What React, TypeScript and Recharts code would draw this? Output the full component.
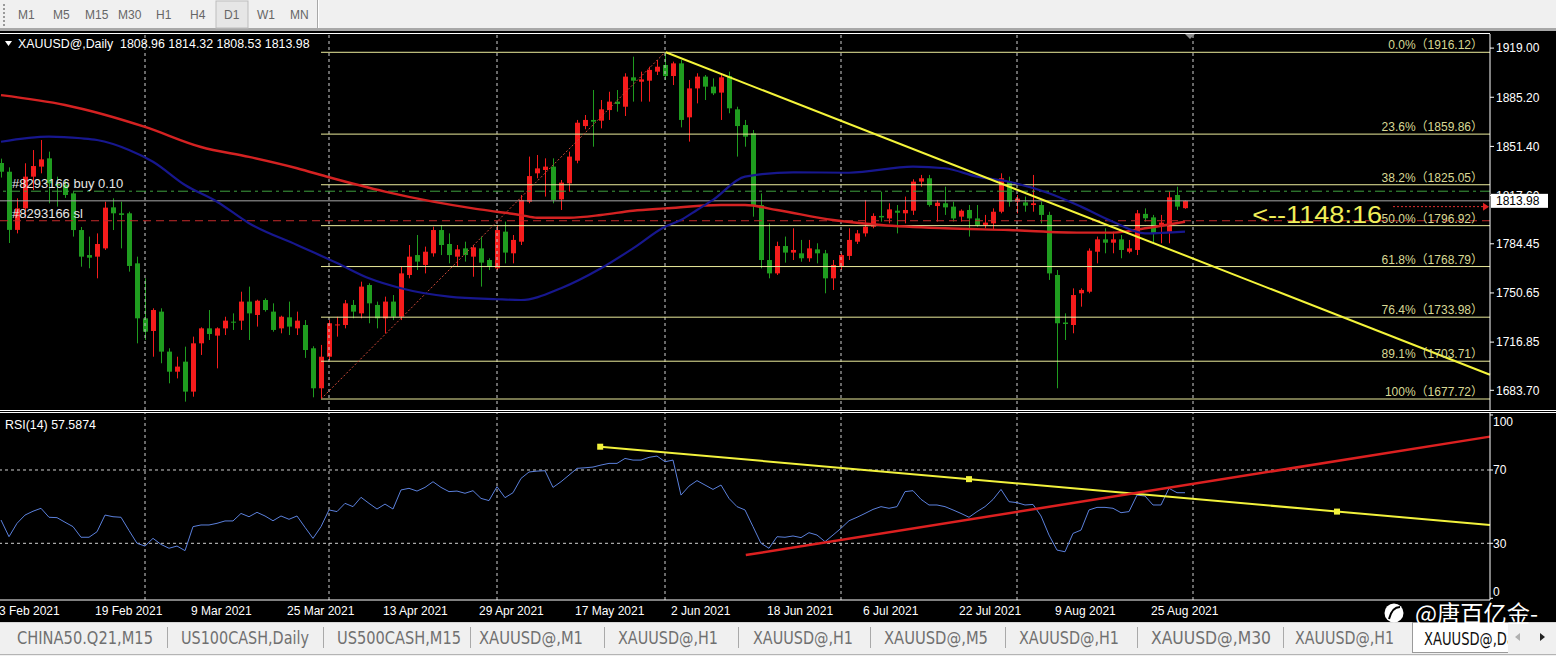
import React from 'react';
import { ComposedChart, Bar, Line, XAxis, YAxis, ReferenceLine, ReferenceDot } from 'recharts';

// ---------------- data ----------------
const opens = [
  1840, 1834, 1794, 1808.8, 1830.6, 1837.5, 1843.2, 1825.5, 1824.9, 1819.1,
  1793.9, 1776.7, 1775.6, 1781.3, 1809.5, 1805.4, 1805.4, 1771.0, 1733.2, 1724.5,
  1737.8, 1710.3, 1696.5, 1703.4, 1682.8, 1716.0, 1726.3, 1721.3, 1726.3, 1730.9,
  1731.6, 1744.7, 1735.5, 1745.8, 1737.8, 1726.3, 1733.9, 1726.3, 1728.6, 1712.6,
  1685.1, 1706.8, 1728.6, 1728.6, 1742.4, 1736.6, 1756.1, 1742.4, 1733.2, 1744.7,
  1734.3, 1763.0, 1776.7, 1769.9, 1777.9, 1793.9, 1784.3, 1775.6, 1781.3, 1775.6,
  1781.3, 1773.3, 1767.6, 1792.8, 1777.9, 1785.9, 1813.4, 1832.9, 1835.2, 1837.5,
  1815.0, 1826.0, 1841.6, 1865.4, 1869.6, 1869.1, 1876.4, 1882.2, 1878.7, 1898.9,
  1895.9, 1896.6, 1902.8, 1907.4, 1899.8, 1908.5, 1871.4, 1891.3, 1899.4, 1892.5,
  1888.4, 1899.8, 1876.9, 1866.1, 1860.4, 1811.1, 1773.3, 1764.1, 1782.9, 1778.4,
  1777.9, 1774.5, 1780.6, 1777.9, 1760.7, 1769.2, 1776.1, 1785.9, 1791.6, 1796.2,
  1803.6, 1801.9, 1807.2, 1805.4, 1807.2, 1827.2, 1829.5, 1810.4, 1812.3, 1810.0,
  1803.1, 1807.7, 1801.9, 1797.4, 1798.5, 1806.5, 1827.2, 1813.4, 1812.9, 1811.1,
  1811.1, 1804.3, 1763.0, 1730.3, 1728.6, 1750.4, 1751.5, 1779.0, 1787.5, 1785.2,
  1787.5, 1779.0, 1780.2, 1805.0, 1802.6, 1797.4, 1792.8, 1818.0, 1808.96,
];
const highs = [
  1843, 1837, 1815.7, 1839.8, 1848.9, 1855.8, 1847.8, 1830.6, 1828.0, 1820.3,
  1796.0, 1789.4, 1791.6, 1813.4, 1815.7, 1813.4, 1806.5, 1775.6, 1760.7, 1740.1,
  1740.1, 1712.6, 1706.8, 1713.7, 1720.6, 1727.0, 1738.9, 1727.0, 1734.3, 1736.6,
  1751.5, 1755.0, 1746.0, 1746.9, 1743.5, 1735.0, 1744.7, 1737.8, 1732.0, 1714.0,
  1714.9, 1732.0, 1734.3, 1745.8, 1745.8, 1758.4, 1757.3, 1744.7, 1748.1, 1749.2,
  1768.7, 1783.6, 1790.5, 1782.5, 1796.2, 1797.4, 1791.6, 1783.6, 1785.9, 1783.6,
  1789.4, 1774.5, 1797.4, 1799.7, 1790.5, 1818.0, 1844.4, 1845.5, 1843.2, 1843.2,
  1828.3, 1847.8, 1869.6, 1873.0, 1890.2, 1883.3, 1889.0, 1890.2, 1901.7, 1913.1,
  1902.8, 1906.2, 1910.8, 1916.12, 1909.7, 1910.8, 1897.1, 1901.7, 1900.5, 1898.2,
  1901.7, 1902.8, 1878.7, 1869.6, 1862.7, 1819.1, 1798.5, 1785.9, 1789.4, 1795.1,
  1787.1, 1787.1, 1784.8, 1780.2, 1773.3, 1777.9, 1795.1, 1793.9, 1814.6, 1805.4,
  1820.3, 1812.3, 1811.1, 1816.9, 1828.8, 1831.8, 1831.8, 1814.6, 1823.7, 1813.4,
  1808.1, 1811.1, 1811.1, 1804.3, 1808.8, 1832.9, 1830.6, 1818.0, 1816.9, 1831.8,
  1813.4, 1806.5, 1766.4, 1736.6, 1753.8, 1753.8, 1781.3, 1789.4, 1795.1, 1792.8,
  1790.5, 1787.1, 1807.7, 1808.8, 1804.3, 1804.3, 1820.3, 1823.7, 1814.32,
];
const lows = [
  1830, 1785, 1791.6, 1802.0, 1821.4, 1832.9, 1812.3, 1810.0, 1816.0, 1789.4,
  1768.7, 1767.6, 1760.7, 1780.2, 1793.9, 1781.3, 1765.3, 1716.0, 1718.3, 1706.8,
  1702.3, 1688.5, 1691.9, 1675.9, 1679.3, 1708.0, 1718.3, 1698.8, 1721.7, 1725.2,
  1725.2, 1718.3, 1727.5, 1737.8, 1724.0, 1722.9, 1721.7, 1721.7, 1706.0, 1678.9,
  1677.72, 1704.5, 1720.6, 1726.3, 1733.2, 1733.2, 1729.8, 1726.3, 1722.9, 1732.0,
  1732.0, 1760.7, 1766.4, 1764.1, 1775.6, 1776.7, 1771.0, 1768.7, 1772.2, 1761.8,
  1755.0, 1766.4, 1766.4, 1771.0, 1771.0, 1783.6, 1812.3, 1829.5, 1816.9, 1812.3,
  1807.7, 1820.3, 1839.8, 1863.2, 1851.2, 1863.8, 1869.6, 1875.3, 1872.3, 1882.2,
  1882.2, 1882.2, 1900.5, 1897.1, 1893.6, 1864.5, 1854.7, 1881.0, 1883.3, 1886.7,
  1869.6, 1874.2, 1844.4, 1851.2, 1803.1, 1767.6, 1760.7, 1763.0, 1771.5, 1773.3,
  1772.1, 1772.1, 1771.0, 1750.4, 1752.7, 1766.4, 1773.3, 1784.3, 1789.4, 1795.1,
  1799.7, 1798.5, 1791.6, 1798.5, 1804.3, 1823.7, 1810.0, 1799.7, 1804.3, 1799.7,
  1799.7, 1789.4, 1796.2, 1795.1, 1793.9, 1805.4, 1810.0, 1805.4, 1806.5, 1806.5,
  1798.5, 1759.6, 1685.1, 1718.3, 1722.9, 1741.2, 1750.4, 1771.0, 1777.9, 1777.9,
  1774.5, 1777.9, 1776.7, 1799.7, 1784.8, 1784.8, 1784.8, 1807.7, 1808.53,
];
const closes = [
  1834, 1794, 1808.8, 1830.6, 1837.9, 1842.5, 1826.0, 1824.5, 1818.0, 1793.9,
  1775.6, 1774.9, 1784.3, 1809.3, 1805.4, 1804.3, 1769.2, 1733.2, 1724.0, 1738.9,
  1710.3, 1696.5, 1700.0, 1682.8, 1716.0, 1726.3, 1722.4, 1726.3, 1731.6, 1730.6,
  1744.7, 1736.6, 1745.3, 1738.9, 1725.2, 1734.3, 1727.5, 1731.6, 1711.4, 1685.1,
  1706.8, 1729.8, 1729.0, 1743.5, 1737.8, 1755.0, 1743.5, 1733.2, 1744.7, 1734.3,
  1764.1, 1775.6, 1772.2, 1779.0, 1793.9, 1783.6, 1776.7, 1780.6, 1776.7, 1782.0,
  1771.5, 1768.7, 1793.9, 1778.4, 1787.1, 1814.6, 1831.0, 1836.3, 1837.5, 1814.6,
  1826.5, 1844.4, 1867.7, 1869.6, 1868.4, 1876.9, 1882.2, 1880.6, 1899.4, 1896.6,
  1897.5, 1904.0, 1906.2, 1899.8, 1908.5, 1869.6, 1891.3, 1899.4, 1892.5, 1887.9,
  1898.9, 1877.6, 1865.4, 1858.1, 1811.1, 1773.3, 1764.1, 1782.9, 1778.4, 1780.2,
  1774.5, 1781.3, 1777.9, 1760.7, 1769.9, 1776.7, 1787.1, 1791.6, 1796.2, 1803.6,
  1802.6, 1808.1, 1805.8, 1807.7, 1827.2, 1829.5, 1811.1, 1812.7, 1809.5, 1801.9,
  1807.2, 1801.9, 1797.4, 1799.0, 1806.5, 1829.5, 1813.4, 1815.5, 1810.7, 1812.3,
  1804.3, 1764.1, 1729.8, 1729.3, 1749.2, 1752.7, 1779.7, 1787.5, 1785.2, 1787.5,
  1780.2, 1781.3, 1805.4, 1802.0, 1791.6, 1799.0, 1816.4, 1810.0, 1813.98,
];
const rsiValues = [
  42.7, 33.6, 40.9, 45.4, 47.5, 49.1, 44.2, 44.0, 41.5, 39.1,
  33.3, 33.3, 36.3, 45.4, 44.5, 44.2, 37.0, 30.0, 28.5, 32.7,
  29.4, 27.3, 28.5, 26.0, 39.1, 40.0, 40.0, 40.9, 42.2, 42.2,
  46.3, 44.5, 46.9, 44.9, 42.3, 44.9, 43.1, 44.9, 38.7, 32.7,
  39.1, 48.2, 47.3, 51.8, 50.0, 55.1, 51.8, 48.7, 51.4, 48.7,
  59.1, 60.0, 58.5, 60.5, 63.6, 60.5, 58.2, 58.5, 57.3, 58.7,
  54.5, 53.3, 60.9, 54.9, 57.6, 65.4, 68.9, 69.4, 69.6, 60.5,
  63.6, 67.2, 70.9, 71.2, 71.6, 72.7, 73.6, 73.6, 76.3, 75.4,
  75.4, 76.9, 77.6, 74.5, 75.4, 56.3, 61.2, 64.2, 61.8, 59.4,
  61.8, 54.5, 50.0, 48.2, 39.1, 30.0, 27.3, 33.6, 33.3, 34.0,
  33.1, 35.8, 34.5, 30.9, 34.5, 38.2, 42.3, 44.2, 46.3, 48.5,
  50.0, 49.1, 50.0, 58.2, 58.7, 54.0, 50.9, 50.9, 50.0, 48.2,
  46.3, 44.2, 47.3, 50.0, 53.9, 59.4, 52.7, 52.2, 50.9, 51.2,
  44.9, 34.5, 26.3, 25.4, 35.4, 37.2, 48.2, 49.6, 49.6, 49.1,
  46.7, 47.3, 56.3, 55.8, 50.9, 50.9, 60.0, 57.6, 57.59,
];
const maRedBars = [0, 8, 18, 25, 31, 37, 41, 48, 54, 59, 62, 65, 67, 71, 75, 79, 83, 90, 93, 97, 104, 110, 118, 126, 135, 139, 143, 148];
const maRedValues = [1886.7, 1879.9, 1864.8, 1851.0, 1844.2, 1836.4, 1830.2, 1820.3, 1813.4, 1808.8, 1806.5, 1804.2, 1802.4, 1802.4, 1804.2, 1807.2, 1808.8, 1811.1, 1811.1, 1807.7, 1800.8, 1797.4, 1795.1, 1793.9, 1792.1, 1792.1, 1795.1, 1799.6];
const maBlueBars = [0, 6, 10, 12, 16, 19, 23, 27, 31, 37, 42, 46, 50, 56, 62, 65, 70, 75, 79, 83, 85, 87, 89, 93, 99, 106, 114, 118, 122, 126, 131, 135, 139, 143, 148];
const maBlueValues = [1854.6, 1858.1, 1857.0, 1855.8, 1849.0, 1840.9, 1824.9, 1813.4, 1798.6, 1783.6, 1771.2, 1760.7, 1753.9, 1748.1, 1746.3, 1745.8, 1753.9, 1767.6, 1781.3, 1796.2, 1800.8, 1807.7, 1814.6, 1830.6, 1833.6, 1833.3, 1837.5, 1836.4, 1830.6, 1827.1, 1819.2, 1810.0, 1799.6, 1791.6, 1792.8];

const fibPercents = ['0.0%', '23.6%', '38.2%', '50.0%', '61.8%', '76.4%', '89.1%', '100%'];
const fibPrices = [1916.12, 1859.86, 1825.05, 1796.92, 1768.79, 1733.98, 1703.71, 1677.72];
const fibStartBar = 40;
const fibDiagBars = [40, 83];
const fibDiagPrices = [1677.72, 1916.12];
const trendMainBars = [83.1, 186.125];
const trendMainPrices = [1916.12, 1694.4];

const priceTicks = [1919.0, 1885.2, 1851.4, 1817.6, 1784.45, 1750.65, 1716.85, 1683.7];
const rsiTicks = [100, 70, 30, 0];
const rsiLevels = [70, 30];
const dateTickBars = [0, 12, 24, 36, 48, 60, 72, 84, 96, 108, 120, 132, 144];
const dateTickLabels = ['3 Feb 2021', '19 Feb 2021', '9 Mar 2021', '25 Mar 2021', '13 Apr 2021', '29 Apr 2021', '17 May 2021', '2 Jun 2021', '18 Jun 2021', '6 Jul 2021', '22 Jul 2021', '9 Aug 2021', '25 Aug 2021'];
const monthGridBars = [18, 41, 62, 83, 105, 127, 149];

const rsiYellowBars = [74.9, 186.125];
const rsiYellowValues = [82.7, 40.0];
const rsiYellowMarkerBars = [74.9, 121, 167];
const rsiYellowMarkerValues = [82.7, 65.0, 47.3];
const rsiRedBars = [93.1, 186.125];
const rsiRedValues = [23.6, 88.2];

const symbolName = 'XAUUSD@,Daily';
const lastOHLC = ['1808.96', '1814.32', '1808.53', '1813.98'];
const rsiLabel = 'RSI(14) 57.5874';
const countdownText = '<--1148:16';
const bidPrice = 1813.98;
const buyOrderPrice = 1820.6;
const slOrderPrice = 1800.3;
const askMarkPrice = 1810.0;
const askMarkBars = [174, 185.6];
const buyOrderText = '#8293166 buy 0.10';
const slOrderText = '#8293166 sl';

const periodButtons = ['M1', 'M5', 'M15', 'M30', 'H1', 'H4', 'D1', 'W1', 'MN'];
const tabLabels = ['CHINA50.Q21,M15', 'US100CASH,Daily', 'US500CASH,M15', 'XAUUSD@,M1', 'XAUUSD@,H1', 'XAUUSD@,H1', 'XAUUSD@,M5', 'XAUUSD@,H1', 'XAUUSD@,M30', 'XAUUSD@,H1'];
const activeTabLabel = 'XAUUSD@,Daily';
const watermarkText = '@唐百亿金-';

// ---------------- layout / style ----------------
const X_DOMAIN: [number, number] = [-0.125, 186.125];
const PRICE_DOMAIN: [number, number] = [1670.16, 1928.7];
const RSI_DOMAIN: [number, number] = [-0.93, 101.09];
const UP = '#f51c1c';
const DOWN = '#1f9c1f';
const FIB_LINE = '#ecec9c';
const FIB_TEXT = '#d8d894';
const GRID = '#d0d0d0';
const FONT = '"Liberation Sans", Arial, "Noto Sans CJK SC", sans-serif';
const NARROW = '"Liberation Sans Narrow", "DejaVu Sans Condensed", ' + FONT;
const buttonX = [18, 53, 85, 118, 156, 190, 224, 257, 290];
const tabX = [17, 181, 337, 479, 618, 753, 884, 1019, 1151, 1295];
const tabW = [136, 128, 124, 104, 100, 100, 104, 100, 120, 99];
const tabSep = [167, 323, 470, 604, 738, 870, 1005, 1137, 1283];

const bars = opens.map((o, i) => ({
  i,
  o,
  h: highs[i],
  l: lows[i],
  c: closes[i],
  rsi: rsiValues[i],
  maRed: null as number | null,
  maBlue: null as number | null,
}));
maRedBars.forEach((b, k) => { bars[b].maRed = maRedValues[k]; });
maBlueBars.forEach((b, k) => { bars[b].maBlue = maBlueValues[k]; });

const Candle = (props: any) => {
  const { x, y, width, height, payload } = props;
  if (!payload || x == null || y == null) return null;
  const { o, h, l, c } = payload;
  const top = Math.min(y, y + height);
  const span = Math.abs(height);
  const k = h === l ? 0 : span / (h - l);
  const cx = Math.round(x + width / 2) + 0.5;
  const yo = top + (h - o) * k;
  const yc = top + (h - c) * k;
  const col = c >= o ? UP : DOWN;
  const bt = Math.min(yo, yc);
  const bh = Math.max(1, Math.abs(yo - yc));
  return (
    <g>
      <line x1={cx} x2={cx} y1={top} y2={top + span} stroke={col} strokeWidth={1} />
      <rect x={cx - 2.5} y={bt} width={5} height={bh} fill={col} />
    </g>
  );
};

const DateTick = (props: any) => {
  const { x, y, payload } = props;
  const idx = dateTickBars.indexOf(payload.value);
  return (
    <text x={x - 2} y={y + 15} fill="#ffffff" fontSize={12} textAnchor="start" fontFamily={FONT}>
      {dateTickLabels[idx]}
    </text>
  );
};

const RsiTick = (props: any) => {
  const { x, y, payload } = props;
  const v = payload.value;
  const dy = v === 100 ? 7 : v === 0 ? -7 : 0;
  return (
    <text x={x} y={y + dy} dy="0.355em" fill="#ffffff" fontSize={12} fontFamily={FONT}>{v}</text>
  );
};

const PriceTick = (props: any) => {
  const { x, y, payload } = props;
  return (
    <text x={x} y={y} dy="0.355em" fill="#ffffff" fontSize={12} fontFamily={FONT}>{Number(payload.value).toFixed(2)}</text>
  );
};

export default function App() {
  return (
    <div style={{ position: 'absolute', left: 0, top: 0, width: 1556, height: 656, background: '#000', overflow: 'hidden', fontFamily: FONT }}>
      {/* toolbar */}
      <svg width={1556} height={34} style={{ position: 'absolute', left: 0, top: 0 }}>
        <rect x={0} y={0} width={1556} height={28} fill="#f0f0f0" />
        <rect x={0} y={28} width={1556} height={3} fill="#a8a8a8" />
        {[4, 8, 12, 16, 20, 24].map((yy) => (
          <rect key={yy} x={3} y={yy} width={2} height={2} fill="#9a9a9a" />
        ))}
        <rect x={216} y={1} width={32} height={27} fill="#e6e6e6" stroke="#bdbdbd" />
        <line x1={317.5} x2={317.5} y1={0} y2={28} stroke="#a8a8a8" />
        <line x1={318.5} x2={318.5} y1={0} y2={28} stroke="#ffffff" />
        {periodButtons.map((b, k) => (
          <text key={b} x={buttonX[k]} y={19} fontSize={12} fill="#666" fontFamily={FONT}>{b}</text>
        ))}
      </svg>

      {/* main price panel */}
      <div style={{ position: 'absolute', left: 0, top: 34 }}>
        <ComposedChart width={1556} height={376} data={bars} margin={{ top: 0, right: 0, bottom: 0, left: 0 }}>
          <XAxis type="number" dataKey="i" domain={X_DOMAIN} allowDataOverflow hide ticks={dateTickBars} />
          <YAxis
            type="number"
            orientation="right"
            width={66}
            domain={PRICE_DOMAIN}
            allowDataOverflow
            ticks={priceTicks}
            interval={0}
            tick={<PriceTick />}
            tickSize={4}
            tickMargin={2}
            axisLine={{ stroke: '#ffffff' }}
            tickLine={{ stroke: '#ffffff' }}
          />
          {monthGridBars.map((b) => (
            <ReferenceLine key={'g' + b} x={b} stroke={GRID} strokeDasharray="3 3" ifOverflow="visible" />
          ))}
          {fibPrices.map((p, k) => (
            <ReferenceLine
              key={'f' + k}
              segment={[{ x: fibStartBar, y: p }, { x: X_DOMAIN[1], y: p }]}
              stroke={FIB_LINE}
              strokeWidth={1}
              ifOverflow="visible"
            />
          ))}
          <ReferenceLine y={buyOrderPrice} stroke="#3fa03f" strokeDasharray="10 4 3 4" ifOverflow="visible" />
          <ReferenceLine y={bidPrice} stroke="#a8a8a8" ifOverflow="visible" />
          <ReferenceLine y={slOrderPrice} stroke="#c42a2a" strokeDasharray="8 5" ifOverflow="visible" />
          <ReferenceLine
            segment={[{ x: askMarkBars[0], y: askMarkPrice }, { x: askMarkBars[1], y: askMarkPrice }]}
            stroke="#e03030"
            strokeDasharray="2 2"
            ifOverflow="visible"
          />
          <ReferenceLine
            segment={[{ x: fibDiagBars[0], y: fibDiagPrices[0] }, { x: fibDiagBars[1], y: fibDiagPrices[1] }]}
            stroke="#d04a3a"
            strokeDasharray="2 2"
            ifOverflow="visible"
          />
          <ReferenceDot
            x={1.375}
            y={buyOrderPrice}
            r={0}
            ifOverflow="visible"
            shape={(pp: any) => (
              <text x={pp.cx} y={pp.cy - 3} fill="#e6e6e6" fontSize={13} fontFamily={FONT}>{buyOrderText}</text>
            )}
          />
          <ReferenceDot
            x={1.375}
            y={slOrderPrice}
            r={0}
            ifOverflow="visible"
            shape={(pp: any) => (
              <text x={pp.cx} y={pp.cy - 3} fill="#e6e6e6" fontSize={13} fontFamily={FONT}>{slOrderText}</text>
            )}
          />
          <Line type="monotone" dataKey="maRed" stroke="#d42222" strokeWidth={2.4} dot={false} connectNulls isAnimationActive={false} />
          <Line type="monotone" dataKey="maBlue" stroke="#17178e" strokeWidth={2.2} dot={false} connectNulls isAnimationActive={false} />
          <Bar dataKey={(d: any) => [d.l, d.h]} barSize={5} shape={<Candle />} isAnimationActive={false} />
          <ReferenceLine
            segment={[{ x: trendMainBars[0], y: trendMainPrices[0] }, { x: trendMainBars[1], y: trendMainPrices[1] }]}
            stroke="#f4f43a"
            strokeWidth={2}
            ifOverflow="visible"
          />
          {fibPrices.map((p, k) => (
            <ReferenceDot
              key={'fl' + k}
              x={185.25}
              y={p}
              r={0}
              ifOverflow="visible"
              shape={(pp: any) => (
                <text x={pp.cx} y={pp.cy - 3} textAnchor="end" fill={FIB_TEXT} fontSize={12} fontFamily={FONT}>
                  {fibPercents[k] + '（' + p.toFixed(2) + '）'}
                </text>
              )}
            />
          ))}
          <ReferenceDot
            x={156.4}
            y={bidPrice}
            r={0}
            ifOverflow="visible"
            shape={(pp: any) => (
              <text x={pp.cx} y={pp.cy + 22} fill="#f0ee58" fontSize={23} textLength={130} lengthAdjust="spacingAndGlyphs" fontFamily={FONT}>
                {countdownText}
              </text>
            )}
          />
          <ReferenceDot
            x={X_DOMAIN[1]}
            y={askMarkPrice}
            r={0}
            ifOverflow="visible"
            shape={(pp: any) => (
              <polygon points={`${pp.cx - 7},${pp.cy - 4} ${pp.cx - 1},${pp.cy} ${pp.cx - 7},${pp.cy + 4}`} fill="#e02020" />
            )}
          />
          <ReferenceDot
            x={X_DOMAIN[1]}
            y={bidPrice}
            r={0}
            ifOverflow="visible"
            zIndex={2000}
            shape={(pp: any) => (
              <g>
                <rect x={pp.cx + 1} y={pp.cy - 7} width={57} height={14} fill="#ffffff" />
                <text x={pp.cx + 6} y={pp.cy} dy="0.355em" fill="#000" fontSize={12} fontFamily={FONT}>{bidPrice.toFixed(2)}</text>
              </g>
            )}
          />
        </ComposedChart>
      </div>

      {/* RSI panel */}
      <div style={{ position: 'absolute', left: 0, top: 413 }}>
        <ComposedChart width={1556} height={207} data={bars} margin={{ top: 0, right: 0, bottom: 0, left: 0 }}>
          <XAxis
            type="number"
            dataKey="i"
            domain={X_DOMAIN}
            allowDataOverflow
            ticks={dateTickBars}
            interval={0}
            height={20}
            tickSize={0}
            tickMargin={0}
            tickLine={false}
            axisLine={{ stroke: '#ffffff' }}
            tick={<DateTick />}
          />
          <YAxis
            type="number"
            orientation="right"
            width={66}
            domain={RSI_DOMAIN}
            allowDataOverflow
            ticks={rsiTicks}
            interval={0}
            tick={<RsiTick />}
            tickSize={3}
            tickMargin={0}
            axisLine={{ stroke: '#ffffff' }}
            tickLine={{ stroke: '#ffffff' }}
          />
          {monthGridBars.map((b) => (
            <ReferenceLine key={'rg' + b} x={b} stroke={GRID} strokeDasharray="3 3" ifOverflow="visible" />
          ))}
          {rsiLevels.map((v) => (
            <ReferenceLine key={'lv' + v} y={v} stroke={GRID} strokeDasharray="3 3" ifOverflow="visible" />
          ))}
          <Line type="linear" dataKey="rsi" stroke="#5b80dc" strokeWidth={1} dot={false} isAnimationActive={false} />
          <ReferenceLine
            segment={[{ x: rsiYellowBars[0], y: rsiYellowValues[0] }, { x: rsiYellowBars[1], y: rsiYellowValues[1] }]}
            stroke="#f2f23c"
            strokeWidth={2}
            ifOverflow="visible"
          />
          <ReferenceLine
            segment={[{ x: rsiRedBars[0], y: rsiRedValues[0] }, { x: rsiRedBars[1], y: rsiRedValues[1] }]}
            stroke="#dc2020"
            strokeWidth={2.5}
            ifOverflow="visible"
          />
          {rsiYellowMarkerBars.map((b, k) => (
            <ReferenceDot
              key={'m' + k}
              x={b}
              y={rsiYellowMarkerValues[k]}
              r={0}
              ifOverflow="visible"
              shape={(pp: any) => <rect x={pp.cx - 3} y={pp.cy - 3} width={6} height={6} fill="#f2f23c" />}
            />
          ))}
        </ComposedChart>
      </div>

      {/* overlay: borders, texts */}
      <svg width={1556} height={656} style={{ position: 'absolute', left: 0, top: 0, pointerEvents: 'none' }}>
        <line x1={0} x2={1490} y1={33.5} y2={33.5} stroke="#ffffff" />
        <line x1={0} x2={1556} y1={410.5} y2={410.5} stroke="#ffffff" />
        <line x1={0} x2={1556} y1={412.5} y2={412.5} stroke="#ffffff" />
        <polygon points="1185,34 1195,34 1190,39" fill="#8a8a8a" />
        <polygon points="5,41 12,41 8.5,46" fill="#ffffff" />
        <text x={18} y={48} fill="#ffffff" fontSize={12.4} fontFamily={FONT} style={{ whiteSpace: 'pre' }}>
          {symbolName + '  ' + lastOHLC.join(' ')}
        </text>
        <text x={5} y={429} fill="#ffffff" fontSize={12.4} fontFamily={FONT}>{rsiLabel}</text>

        {/* tab bar */}
        <rect x={0} y={622} width={1556} height={34} fill="#f0f0f0" />
        <line x1={0} x2={1556} y1={622.5} y2={622.5} stroke="#d6d6d6" />
        <line x1={0} x2={1556} y1={654.5} y2={654.5} stroke="#b4b4b4" />
        {tabSep.map((sx) => (
          <line key={sx} x1={sx + 0.5} x2={sx + 0.5} y1={627} y2={648} stroke="#a9a9a9" />
        ))}
        {tabLabels.map((t, k) => (
          <text
            key={k}
            x={tabX[k]}
            y={644}
            fill="#707070"
            fontSize={17}
            textLength={tabW[k]}
            lengthAdjust="spacingAndGlyphs"
            fontFamily={NARROW}
          >
            {t}
          </text>
        ))}
        <rect x={1412.5} y={622.5} width={104} height={30} fill="#ffffff" stroke="#9a9a9a" />
        <text x={1424} y={645} fill="#111" fontSize={17} textLength={106} lengthAdjust="spacingAndGlyphs" fontFamily={NARROW}>
          {activeTabLabel}
        </text>
        <rect x={1508} y={623} width={48} height={31} fill="#f0f0f0" />
        <polygon points="1515,637 1520,633 1520,641" fill="#b0b0b0" />
        <polygon points="1540,633 1545,637 1540,641" fill="#222" />

        {/* watermark */}
        <circle cx={1394} cy={613} r={9.5} fill="#ffffff" />
        <path d="M1389,619 C1391,611 1395,607 1400,607" stroke="#000" strokeWidth={2} fill="none" />
        <text x={1415} y={622} fill="#ffffff" fontSize={23} textLength={123} lengthAdjust="spacingAndGlyphs" fontFamily={'"Noto Sans CJK SC", sans-serif'}>
          {watermarkText}
        </text>
      </svg>
    </div>
  );
}
